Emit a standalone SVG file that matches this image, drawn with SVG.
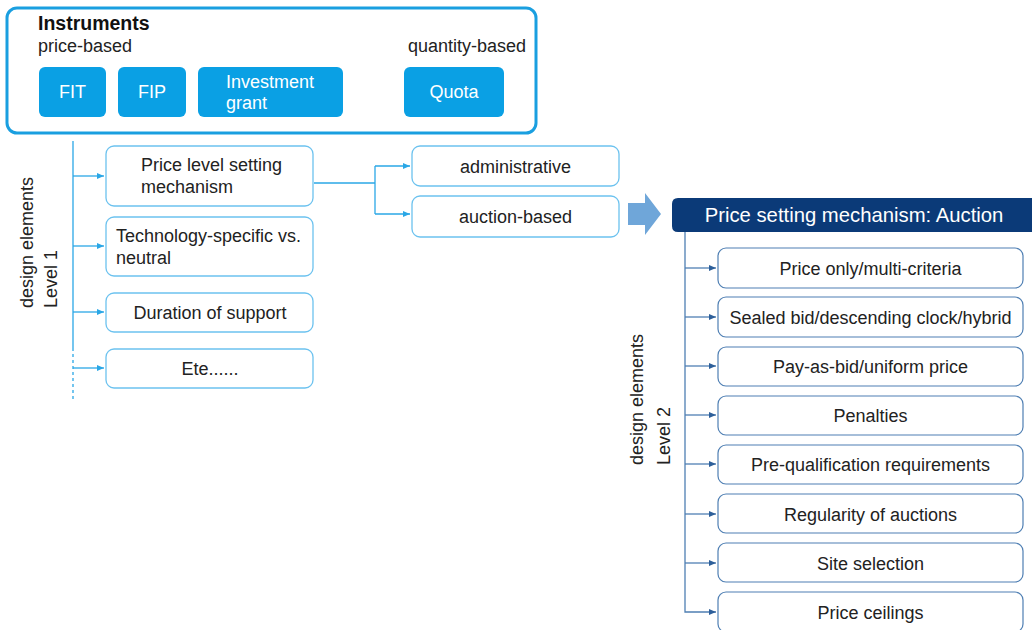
<svg xmlns="http://www.w3.org/2000/svg" width="1032" height="630" viewBox="0 0 1032 630">
<style>
text{font-family:"Liberation Sans",Arial,sans-serif;fill:#222}
.t18{font-size:18px}
.mid{text-anchor:middle}
.wt{fill:#fff;font-size:18px;text-anchor:middle}
.inst{fill:#0aa0e4}
.b1{fill:#fff;stroke:#6cc2ef;stroke-width:1.3}
.b2{fill:#fff;stroke:#4f7fb3;stroke-width:1.2}
.c1{fill:none;stroke:#2aa7e6;stroke-width:1.3}
.c2{fill:none;stroke:#4f7fb3;stroke-width:1.3}
</style>
<defs>
<marker id="a1" markerUnits="userSpaceOnUse" markerWidth="8" markerHeight="8" refX="7" refY="4" orient="auto"><path d="M0,1 L7,4 L0,7 Z" fill="#2aa7e6"/></marker>
<marker id="a2" markerUnits="userSpaceOnUse" markerWidth="8" markerHeight="8" refX="7" refY="4" orient="auto"><path d="M0,1 L7,4 L0,7 Z" fill="#2d5f9a"/></marker>
</defs>
<rect width="1032" height="630" fill="#fff"/>

<g id="instruments">
<rect x="7" y="8" width="529" height="125" rx="10" fill="#fff" stroke="#1a9fe0" stroke-width="3"/>
<text x="38" y="30" style="font-size:19.5px;font-weight:bold;fill:#111">Instruments</text>
<text x="38" y="52" class="t18">price-based</text>
<text x="526" y="52" class="t18" text-anchor="end">quantity-based</text>
</g>
<g id="fit"><rect class="inst" x="39" y="67" width="67" height="50" rx="6"/><text x="72.5" y="98" class="wt">FIT</text></g>
<g id="fip"><rect class="inst" x="118" y="67" width="68" height="50" rx="6"/><text x="152" y="98" class="wt">FIP</text></g>
<g id="grant"><rect class="inst" x="198" y="67" width="145" height="50" rx="6"/><text x="226" y="88" class="wt" style="text-anchor:start">Investment</text><text x="226" y="109" class="wt" style="text-anchor:start">grant</text></g>
<g id="quota"><rect class="inst" x="404" y="67" width="100" height="50" rx="6"/><text x="454" y="98" class="wt">Quota</text></g>

<g id="level1-label">
<text transform="translate(33,308) rotate(-90)" class="t18">design elements</text>
<text transform="translate(57,308) rotate(-90)" class="t18">Level 1</text>
</g>

<g id="connectors">
<path class="c1" d="M73,141 V348"/>
<path class="c1" d="M73,348 V402" stroke-dasharray="3,3"/>
<path class="c1" d="M73,176 H104" marker-end="url(#a1)"/>
<path class="c1" d="M73,246 H104" marker-end="url(#a1)"/>
<path class="c1" d="M73,312 H104" marker-end="url(#a1)"/>
<path class="c1" d="M73,368 H104" marker-end="url(#a1)"/>
<path class="c1" d="M314,183 H375"/>
<path class="c1" d="M375,166 V214"/>
<path class="c1" d="M375,166 H410" marker-end="url(#a1)"/>
<path class="c1" d="M375,214 H410" marker-end="url(#a1)"/>
<path class="c2" d="M685,232 V612 H716" marker-end="url(#a2)"/>
<path class="c2" d="M685,268 H716" marker-end="url(#a2)"/>
<path class="c2" d="M685,317 H716" marker-end="url(#a2)"/>
<path class="c2" d="M685,366 H716" marker-end="url(#a2)"/>
<path class="c2" d="M685,415 H716" marker-end="url(#a2)"/>
<path class="c2" d="M685,464 H716" marker-end="url(#a2)"/>
<path class="c2" d="M685,514 H716" marker-end="url(#a2)"/>
<path class="c2" d="M685,563 H716" marker-end="url(#a2)"/>
<path d="M628,203 H645 V193 L661,214 L645,235 V225 H628 Z" fill="#6fa6d9"/>
</g>

<g id="price-level"><rect class="b1" x="106" y="146" width="207" height="60" rx="8"/><text x="141" y="171" class="t18">Price level setting</text><text x="141" y="193" class="t18">mechanism</text></g>
<g id="tech"><rect class="b1" x="106" y="217" width="207" height="59" rx="8"/><text x="116" y="242" class="t18">Technology-specific vs.</text><text x="116" y="264" class="t18">neutral</text></g>
<g id="duration"><rect class="b1" x="106" y="293" width="207" height="39" rx="8"/><text x="210" y="319" class="t18 mid">Duration of support</text></g>
<g id="etc"><rect class="b1" x="106" y="349" width="207" height="39" rx="8"/><text x="210" y="375" class="t18 mid">Ete......</text></g>

<g id="administrative"><rect class="b1" x="412" y="146" width="207" height="40" rx="8"/><text x="515.5" y="173" class="t18 mid">administrative</text></g>
<g id="auction-based"><rect class="b1" x="412" y="196" width="207" height="41" rx="8"/><text x="515.5" y="223" class="t18 mid">auction-based</text></g>

<g id="auction-header">
<path d="M678,198 H1032 V232 H678 Q672,232 672,226 V204 Q672,198 678,198 Z" fill="#0b3a78"/>
<text x="854" y="222" class="mid" style="font-size:20.3px;fill:#fff">Price setting mechanism: Auction</text>
</g>

<g id="level2-label">
<text transform="translate(643,465) rotate(-90)" class="t18">design elements</text>
<text transform="translate(670,465) rotate(-90)" class="t18">Level 2</text>
</g>

<g id="l2-1"><rect class="b2" x="718" y="248" width="305" height="40" rx="8"/><text x="870.5" y="275" class="t18 mid">Price only/multi-criteria</text></g>
<g id="l2-2"><rect class="b2" x="718" y="297" width="305" height="40" rx="8"/><text x="870.5" y="324" class="t18 mid">Sealed bid/descending clock/hybrid</text></g>
<g id="l2-3"><rect class="b2" x="718" y="347" width="305" height="39" rx="8"/><text x="870.5" y="373" class="t18 mid">Pay-as-bid/uniform price</text></g>
<g id="l2-4"><rect class="b2" x="718" y="396" width="305" height="39" rx="8"/><text x="870.5" y="422" class="t18 mid">Penalties</text></g>
<g id="l2-5"><rect class="b2" x="718" y="445" width="305" height="39" rx="8"/><text x="870.5" y="471" class="t18 mid">Pre-qualification requirements</text></g>
<g id="l2-6"><rect class="b2" x="718" y="494" width="305" height="39" rx="8"/><text x="870.5" y="521" class="t18 mid">Regularity of auctions</text></g>
<g id="l2-7"><rect class="b2" x="718" y="543" width="305" height="39" rx="8"/><text x="870.5" y="570" class="t18 mid">Site selection</text></g>
<g id="l2-8"><rect class="b2" x="718" y="592" width="305" height="40" rx="8"/><text x="870.5" y="619" class="t18 mid">Price ceilings</text></g>
</svg>
